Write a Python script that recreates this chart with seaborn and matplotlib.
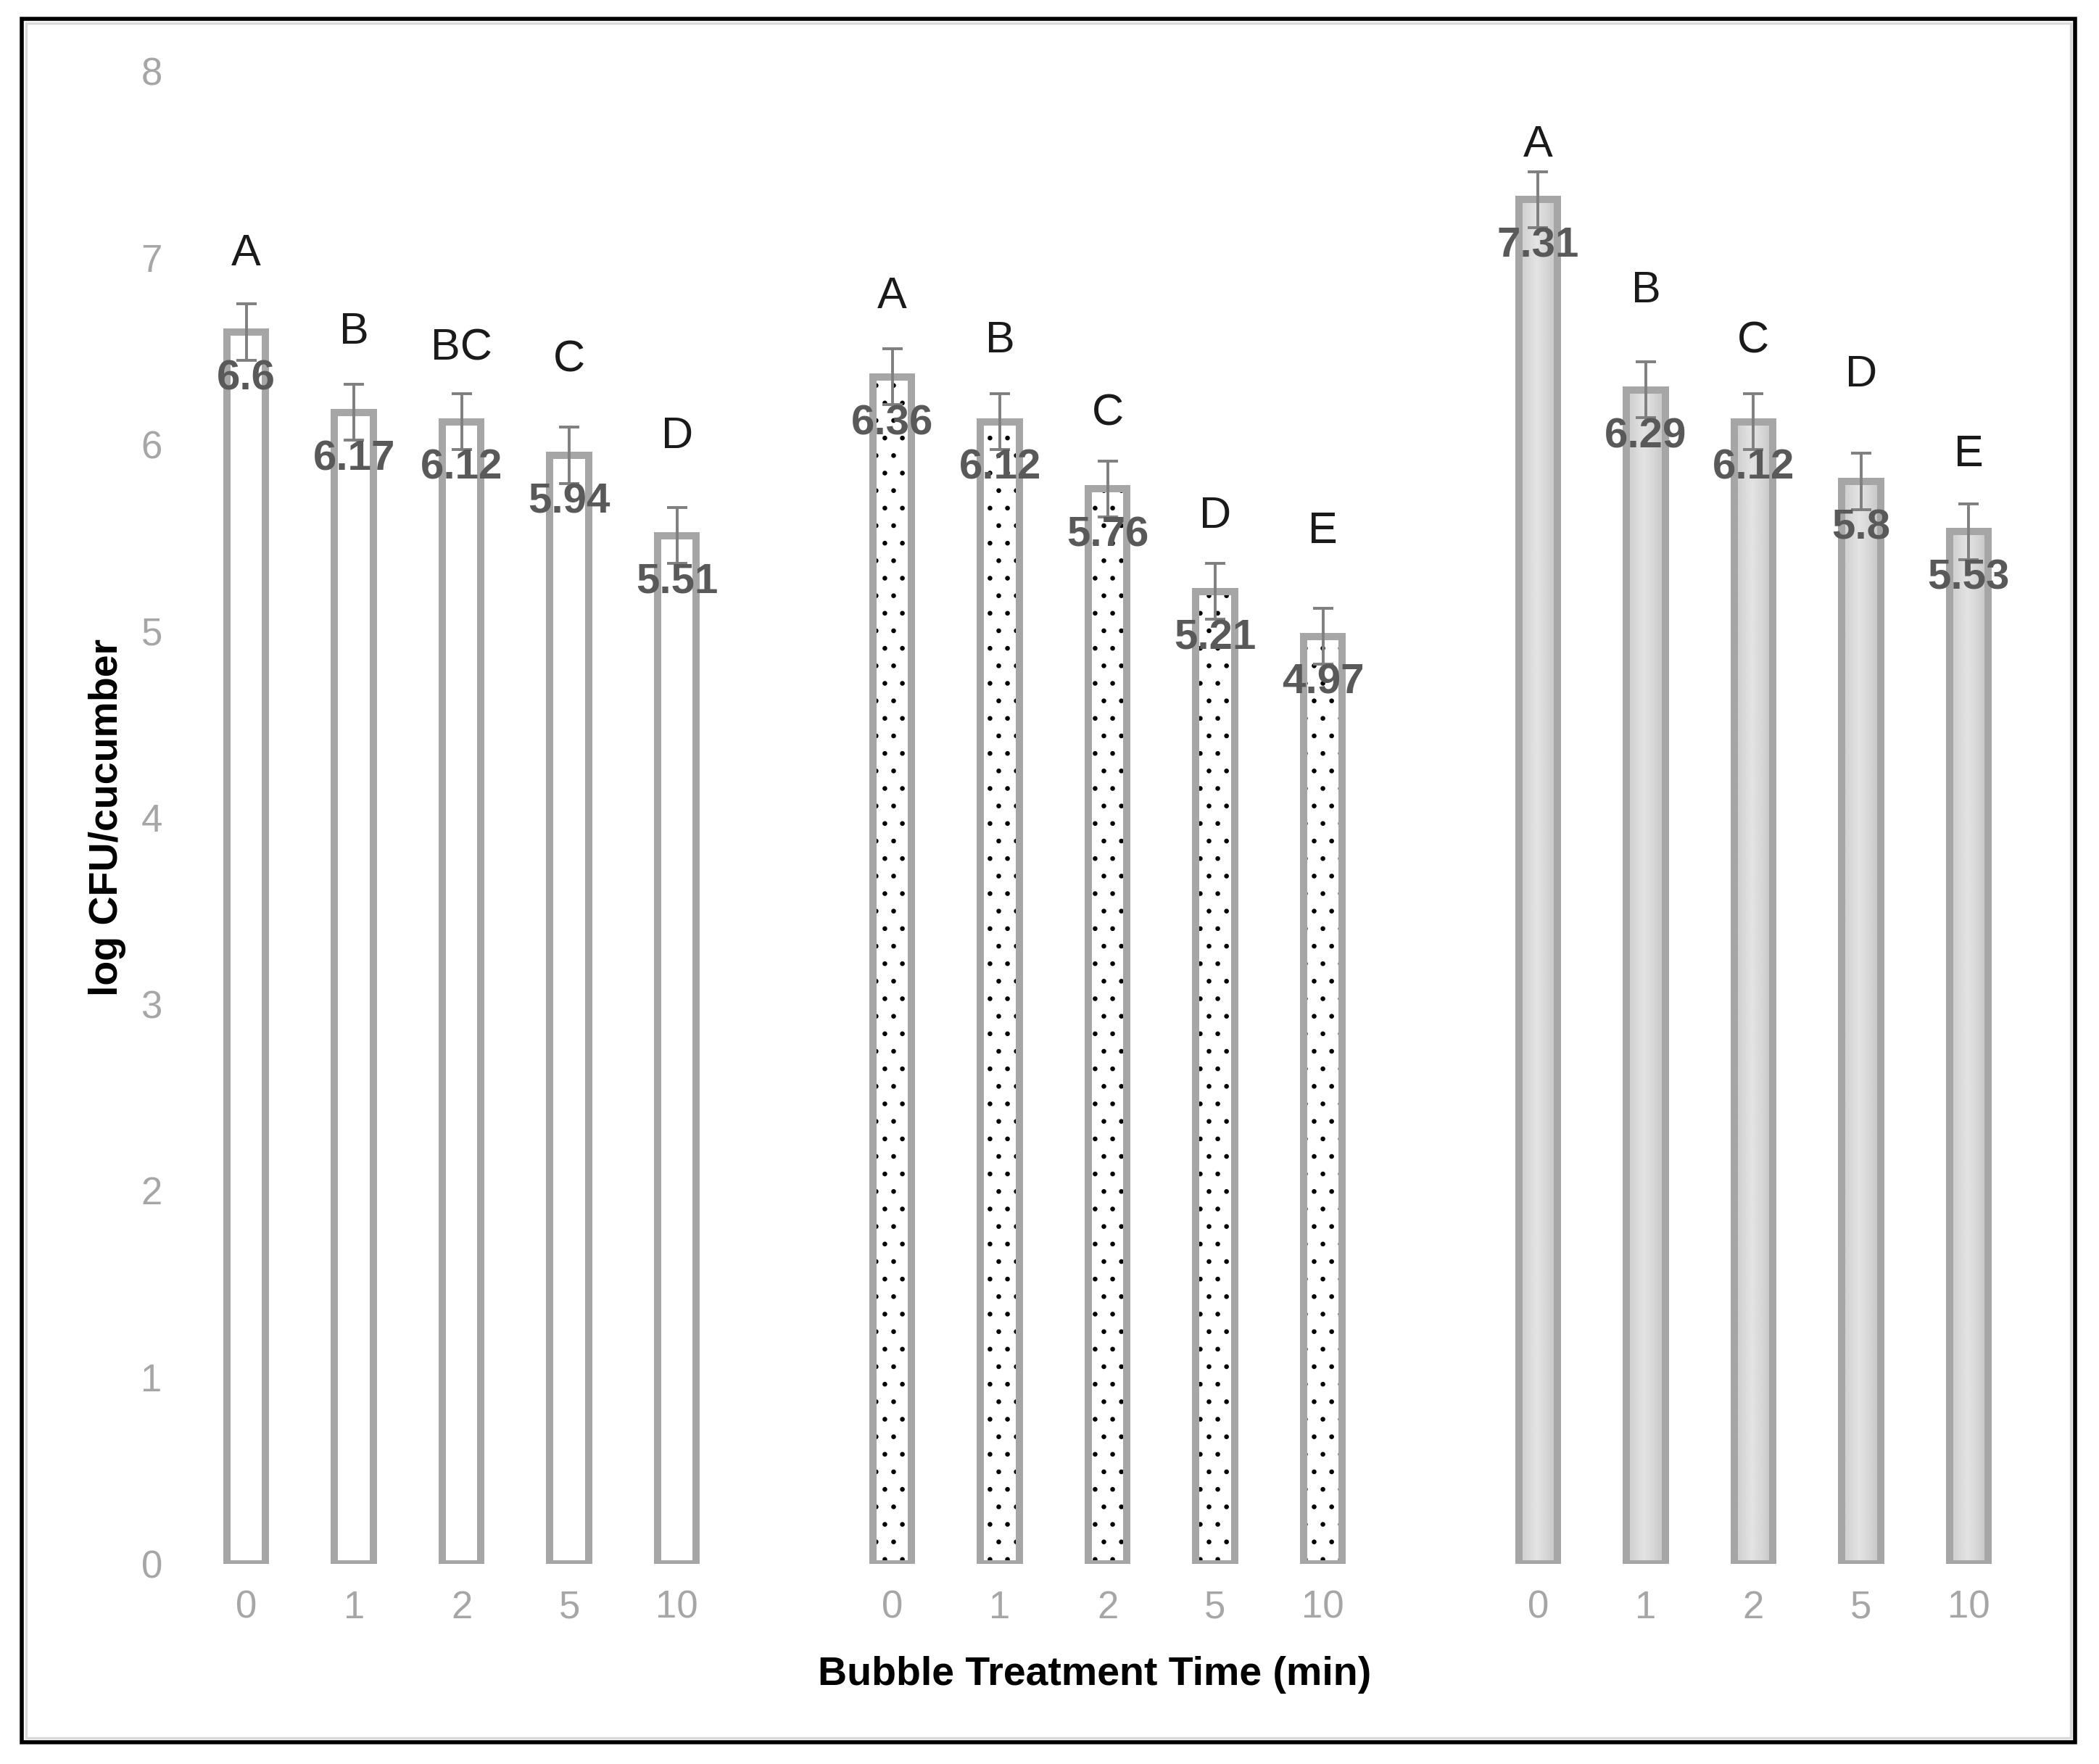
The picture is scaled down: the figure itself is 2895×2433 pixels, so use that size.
import numpy as np
import pandas as pd
import seaborn as sns
import matplotlib.pyplot as plt
from matplotlib.patches import Rectangle

# data
times = ["0", "1", "2", "5", "10"]
group1_vals = [6.6, 6.17, 6.12, 5.94, 5.51]
group2_vals = [6.36, 6.12, 5.76, 5.21, 4.97]
group3_vals = [7.31, 6.29, 6.12, 5.8, 5.53]
errors = [0.15] * 15
letters = ["A", "B", "BC", "C", "D",
           "A", "B", "C", "D", "E",
           "A", "B", "C", "D", "E"]
letter_y = [7.02, 6.60, 6.51, 6.45, 6.04,
            6.79, 6.55, 6.16, 5.61, 5.53,
            7.60, 6.82, 6.55, 6.37, 5.94]

W, H, DPI = 2895, 2433, 145
k = 200 / DPI  # sizes below were tuned for 200 dpi

sns.set_theme(style="white")
plt.rcParams["hatch.linewidth"] = 0.6 * k

narrow = ["Liberation Sans Narrow", "Liberation Sans", "DejaVu Sans"]
bold = ["Liberation Sans", "DejaVu Sans"]

values = group1_vals + group2_vals + group3_vals
df = pd.DataFrame({
    "group": np.repeat([0, 1, 2], 5),
    "time": times * 3,
    "value": values,
    "err": errors,
    "letter": letters,
    "letter_y": letter_y,
})
df["pos"] = df["group"] * 6 + np.tile(np.arange(5), 3)

fig = plt.figure(figsize=(W / DPI, H / DPI), dpi=DPI)
fig.patch.set_facecolor("white")
ax = fig.add_axes([0.0917, 0.1136, 0.8719, 0.8462])

edge_gray = "#a6a6a6"
sns.barplot(data=df, x="pos", y="value", native_scale=True, width=0.36,
            color="white", edgecolor=edge_gray, linewidth=3.6 * k,
            errorbar=None, ax=ax, zorder=2)

patches = sorted(ax.patches, key=lambda p: p.get_x())
for i, p in enumerate(patches):
    g = i // 5
    p.set_facecolor("white")
    p.set_edgecolor(edge_gray)
    p.set_linewidth(3.6 * k)
    x0, y0, w, h = p.get_x(), p.get_y(), p.get_width(), p.get_height()
    if g == 1:
        # dotted fill, black dots under the grey outline
        p.set_facecolor("none")
        dots = Rectangle((x0, y0), w, h, facecolor="white", edgecolor="black",
                         hatch=".", linewidth=0, zorder=1.5)
        ax.add_patch(dots)
    elif g == 2:
        p.set_facecolor("none")
        u = np.linspace(0, 1, 64)
        shade = 0.76 + 0.13 * (1 - np.abs(u - 0.45) / 0.55) ** 0.8
        img = np.tile(shade, (2, 1))
        im = ax.imshow(img, cmap="gray", vmin=0, vmax=1, aspect="auto",
                       extent=(x0, x0 + w, y0, y0 + h), zorder=1.5,
                       interpolation="bilinear")
        clip = Rectangle((x0, y0), w, h, transform=ax.transData)
        im.set_clip_path(clip)

ax.errorbar(df["pos"], df["value"], yerr=df["err"], fmt="none",
            ecolor="#7f7f7f", elinewidth=1.4 * k, capsize=5.2 * k,
            capthick=1.4 * k, zorder=3)

for _, r in df.iterrows():
    ax.text(r["pos"], r["value"] - 0.25, f"{r['value']:g}", ha="center",
            va="center", fontsize=21 * k, fontweight="bold", color="#595959",
            family=narrow, zorder=4)
    ax.text(r["pos"], r["letter_y"], r["letter"], ha="center", va="center",
            fontsize=22 * k, color="#1a1a1a", family=narrow, zorder=4)

ax.set_xlim(-0.5, 16.5)
ax.set_ylim(0, 8)
ax.set_aspect("auto")
ax.set_xticks(df["pos"])
ax.set_xticklabels(df["time"])
ax.set_yticks(range(0, 9))
ax.tick_params(axis="both", length=0, labelcolor="#a6a6a6", labelsize=19 * k)
ax.tick_params(axis="x", pad=13 * k)
ax.tick_params(axis="y", pad=15 * k)
for lab in ax.get_xticklabels() + ax.get_yticklabels():
    lab.set_family(narrow)
for s in ax.spines.values():
    s.set_visible(False)

ax.set_xlabel("Bubble Treatment Time (min)", fontsize=20 * k, fontweight="bold",
              color="black", family=bold)
ax.set_ylabel("log CFU/cucumber", fontsize=20 * k, fontweight="bold",
              color="black", family=bold)
ax.xaxis.set_label_coords(0.493, -0.0744)
ax.xaxis.label.set_va("center")
ax.yaxis.set_label_coords(-0.0467, 0.5)
ax.yaxis.label.set_va("center")

# frame around the picture
fig.patches.append(Rectangle((36 / W, 36 / H), (2856 - 36) / W, (2401 - 36) / H,
                             transform=fig.transFigure, fill=False,
                             edgecolor="#d9d9d9", linewidth=1.2 * k))
fig.patches.append(Rectangle((30 / W, 30 / H), (2862 - 30) / W, (2407 - 30) / H,
                             transform=fig.transFigure, fill=False,
                             edgecolor="black", linewidth=2.0 * k))

fig.savefig("out.png", dpi=DPI, facecolor="white")
